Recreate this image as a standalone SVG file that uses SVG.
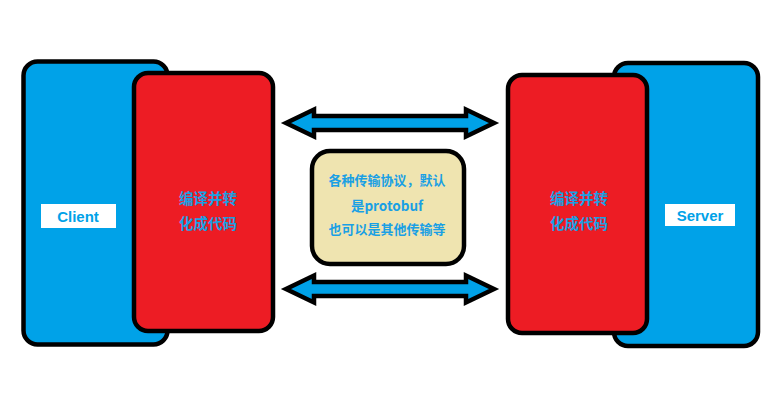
<svg xmlns="http://www.w3.org/2000/svg" width="782" height="416" viewBox="0 0 782 416">
<style>
.blue{fill:#00a2e8;stroke:#000;stroke-width:4.5}
.red{fill:#ed1c24;stroke:#000;stroke-width:4.5}
.yel{fill:#efe4b0;stroke:#000;stroke-width:4.5}
.lab{fill:#fff}
.t{font-family:"Liberation Sans","Noto Sans CJK SC",sans-serif;font-weight:bold;fill:#00a2e8;text-anchor:middle}
.cn{font-family:"Noto Sans CJK SC","Liberation Sans",sans-serif;font-weight:bold;fill:#1aa0e4;text-anchor:middle}
.arr{fill:#00a2e8;stroke:#000;stroke-width:4.5;stroke-linejoin:miter;stroke-miterlimit:3}
</style>
<rect width="782" height="416" fill="#fff"/>
<g id="client">
<rect class="blue" x="23.5" y="61.5" width="144" height="283" rx="14"/>
<rect class="lab" x="41" y="204" width="75" height="24"/>
<text class="t" x="78" y="222" font-size="15">Client</text>
</g>
<g id="client-codec">
<rect class="red" x="134" y="73" width="139" height="258" rx="14"/>
<text class="cn" x="208" y="204" font-size="14.5">编译并转</text>
<text class="cn" x="208" y="229" font-size="14.5">化成代码</text>
</g>
<g id="server">
<rect class="blue" x="614" y="63" width="144" height="283" rx="14"/>
<rect class="lab" x="665" y="204" width="70" height="22"/>
<text class="t" x="700" y="221" font-size="15">Server</text>
</g>
<g id="server-codec">
<rect class="red" x="508" y="75" width="139" height="258" rx="14"/>
<text class="cn" x="579" y="204" font-size="14.5">编译并转</text>
<text class="cn" x="579" y="229" font-size="14.5">化成代码</text>
</g>
<g id="protocol">
<rect class="yel" x="312" y="151" width="152" height="113" rx="18"/>
<text class="cn" x="387" y="185" font-size="13">各种传输协议，默认</text>
<text class="cn" x="387" y="211" font-size="13.5">是protobuf</text>
<text class="cn" x="387" y="234" font-size="13">也可以是其他传输等</text>
</g>
<g id="connectors">
<polygon class="arr" points="286,123 314,109.5 314,116 466,116 466,109.5 494,123 466,136.5 466,130 314,130 314,136.5"/>
<polygon class="arr" points="286,289 314,275.5 314,282 466,282 466,275.5 494,289 466,302.5 466,296 314,296 314,302.5"/>
</g>
</svg>
